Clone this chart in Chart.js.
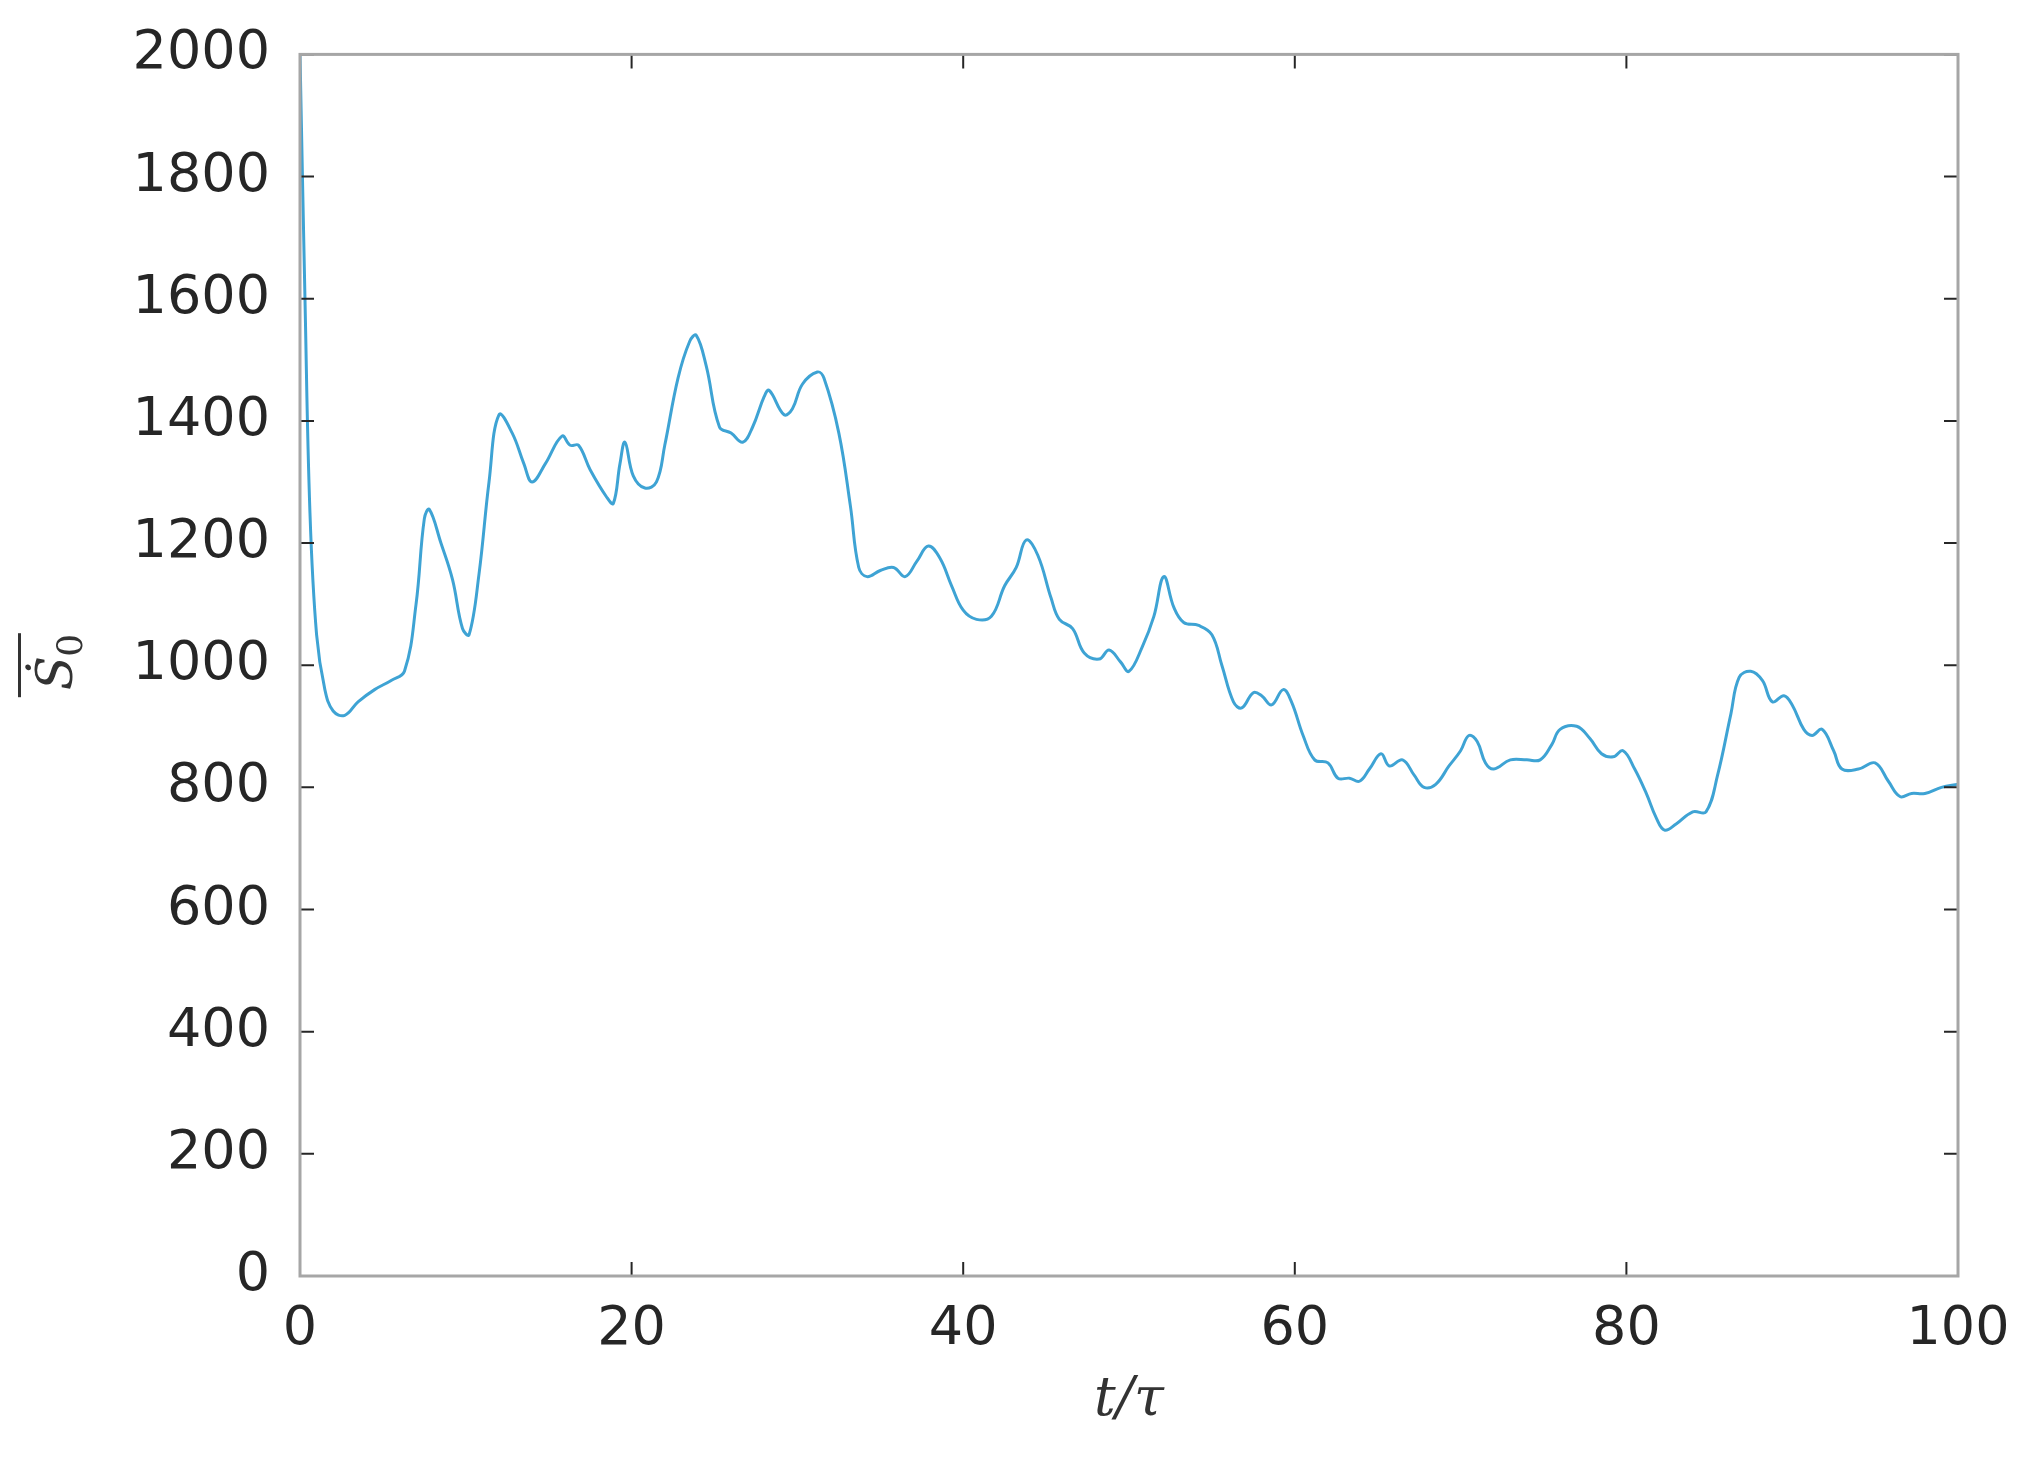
<!DOCTYPE html>
<html><head><meta charset="utf-8">
<script src="https://cdn.jsdelivr.net/npm/chart.js@4"></script>
<style>html,body{margin:0;padding:0;background:#fff}#w{width:2038px;height:1471px}</style>
</head><body><div id="w"><canvas id="c"></canvas></div>
<script>
const tValues = [0,0.3,0.6,1,1.5,2,2.7,3.5,4.5,5.5,6.3,7,7.5,7.8,8.5,9.2,9.8,10.2,10.8,11.4,12,12.8,13.5,14,14.8,15.8,16.3,16.8,17.5,18.5,18.9,19.3,19.6,20.1,20.8,21.5,22,22.8,23.5,23.9,24.5,25.3,26,26.7,27.3,28,28.3,29.2,29.7,30.3,31.2,31.6,32.5,33.2,33.7,34.2,35,35.8,36.5,37.2,37.9,38.6,39.3,40,40.8,41.7,42.5,43.2,43.8,44.5,45.3,45.8,46.6,47.3,48.2,48.8,49.5,50,50.8,51.5,52.1,52.7,53.3,54.2,55,55.6,56.3,56.8,57.5,58,58.6,59.3,59.8,60.5,61.2,62,62.6,63.3,63.9,64.5,65.2,65.7,66.5,67.2,67.8,68.5,69.3,70,70.5,71,71.5,72,73,74,74.8,75.5,76,77,77.8,78.5,79.2,79.8,80.5,81.2,81.8,82.3,83,84,84.8,85.5,86.3,86.8,87.5,88.2,88.8,89.5,90,90.7,91.2,91.8,92.5,93,94,95,95.8,96.5,97.2,98,99,100];
const sValues = [2000,1600,1250,1050,960,925,918,940,960,975,990,1100,1240,1255,1200,1140,1060,1050,1150,1300,1410,1380,1330,1300,1330,1375,1360,1360,1320,1275,1265,1330,1365,1310,1290,1300,1360,1470,1530,1540,1490,1390,1380,1365,1390,1440,1450,1410,1420,1460,1480,1470,1380,1260,1160,1145,1155,1160,1145,1170,1195,1175,1130,1090,1075,1080,1130,1160,1205,1180,1110,1075,1060,1020,1010,1025,1005,990,1030,1080,1145,1095,1070,1065,1050,1000,940,930,955,950,935,960,940,885,845,840,815,815,810,830,855,835,845,820,800,805,835,860,885,875,840,830,845,845,845,870,895,900,880,855,850,860,830,790,750,730,740,760,760,820,920,980,990,975,940,950,935,895,885,895,860,830,830,840,810,785,790,790,800,805];
const xTicks = [0,20,40,60,80,100];
const yTicks = [0,200,400,600,800,1000,1200,1400,1600,1800,2000];

const frame = {
  id:'frame',
  afterDraw(ch){
    const c=ch.ctx, a=ch.chartArea, xs=ch.scales.x, ys=ch.scales.y;
    c.save();
    c.strokeStyle='#262626'; c.lineWidth=2;
    const L=14;
    xTicks.forEach(v=>{const p=xs.getPixelForValue(v);
      c.beginPath();c.moveTo(p,a.bottom);c.lineTo(p,a.bottom-L);c.moveTo(p,a.top);c.lineTo(p,a.top+L);c.stroke();});
    yTicks.forEach(v=>{const p=ys.getPixelForValue(v);
      c.beginPath();c.moveTo(a.left,p);c.lineTo(a.left+L,p);c.moveTo(a.right,p);c.lineTo(a.right-L,p);c.stroke();});
    c.strokeStyle='#a6a6a6'; c.lineWidth=3;
    c.strokeRect(a.left,a.top,a.right-a.left,a.bottom-a.top);
    c.fillStyle='#333';
    c.font='italic 54px "DejaVu Serif"';
    c.textAlign='center'; c.textBaseline='alphabetic';
    c.fillText('t/τ',(a.left+a.right)/2,1415);
    c.translate(72,(a.top+a.bottom)/2);
    c.rotate(-Math.PI/2);
    c.font='italic 50px "DejaVu Serif"';
    c.fillText('Ṡ',-8,0);
    c.font='36px "DejaVu Serif"';
    c.fillText('0',20,10);
    c.fillRect(-32,-54,64,3);
    c.restore();
  }
};

new Chart(document.getElementById('c'),{
  type:'line',
  data:{datasets:[{data:tValues.map((t,i)=>({x:t,y:sValues[i]})),borderColor:'#3ea3d4',borderWidth:3,pointRadius:0,tension:0.4,fill:false}]},
  options:{
    responsive:true,maintainAspectRatio:false,animation:false,
    devicePixelRatio:1,
    layout:{padding:{left:0,right:80,top:52,bottom:0}},
    plugins:{legend:{display:false},tooltip:{enabled:false}},
    scales:{
      x:{type:'linear',min:0,max:100,
        afterFit(s){s.height=195;},
        afterBuildTicks(s){s.ticks=xTicks.map(v=>({value:v}));},
        grid:{display:false},border:{display:false},
        ticks:{color:'#262626',font:{family:'DejaVu Sans',size:54},padding:14,maxRotation:0,callback:v=>String(v)}},
      y:{min:0,max:2000,
        afterFit(s){s.width=300;},
        afterBuildTicks(s){s.ticks=yTicks.map(v=>({value:v}));},
        grid:{display:false},border:{display:false},
        ticks:{color:'#262626',font:{family:'DejaVu Sans',size:54},padding:22,callback:v=>String(v)}}
    }
  },
  plugins:[frame]
});
</script></body></html>
